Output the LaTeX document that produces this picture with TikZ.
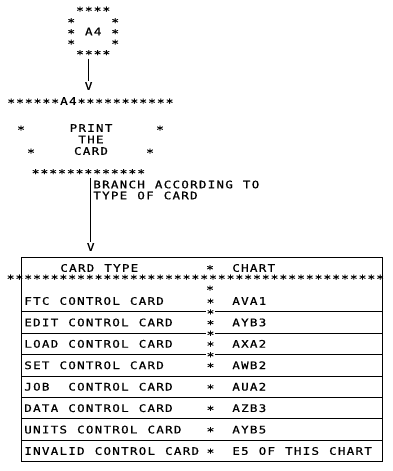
\documentclass[tikz,border=0pt]{standalone}
\usepackage{fontspec}
\newfontfamily\plotfont[FakeStretch=1.2, FakeBold=0.7]{DejaVu Sans Mono}
\newdimen\chpitch
\chpitch=8.8pt
\ExplSyntaxOn
\NewDocumentCommand\mtext{m}{
  \tl_map_inline:nn {#1}{
    \tl_if_eq:nnTF{##1}{*}
      {\makebox[\chpitch][c]{\raisebox{-2.0pt}{\fontsize{11pt}{11pt}\selectfont *}}}
      {\makebox[\chpitch][c]{##1}}
  }
}
\ExplSyntaxOff
\tikzset{
  txt/.style={inner sep=0pt, anchor=west, text height=7.6pt, text depth=0pt,
    font=\plotfont\fontsize{10.4pt}{10.75pt}\selectfont},
  rule/.style={line width=0.8pt, black}
}
\begin{document}
\begin{tikzpicture}[x=1pt,y=-1pt]
\useasboundingbox (0,0) rectangle (393,471);
% connector A4
\node[txt] (c1) at (66.6,9) {\mtext{~****}};
\node[txt] (c2) at (66.6,20.5) {\mtext{*~~~~*}};
\node[txt] (c3) at (66.6,31.5) {\mtext{*~A4~*}};
\node[txt] (c4) at (66.6,42) {\mtext{*~~~~*}};
\node[txt] (c5) at (66.6,52.5) {\mtext{~****}};
\node[txt, anchor=center] (v1) at (88.6,86) {V};
\draw[rule, shorten <=2pt, shorten >=1pt] (v1.north |- c5.south) -- (v1.north);
% process block
\node[txt] (h) at (6.6,101) {\mtext{******A4***********}};
\node[txt, anchor=center] (s1) at (21,128) {\mtext{*}};
\node[txt, anchor=center] (s2) at (160,128) {\mtext{*}};
\node[txt, anchor=center] (s3) at (31,151) {\mtext{*}};
\node[txt, anchor=center] (s4) at (150,151) {\mtext{*}};
\node[txt, anchor=center] (p1) at (91,128) {\mtext{PRINT}};
\node[txt, anchor=center] (p2) at (91,139.5) {\mtext{THE}};
\node[txt, anchor=center] (p3) at (91,151) {\mtext{CARD}};
\node[txt] (pb) at (31,171.5) {\mtext{*************}};
\node[txt, anchor=center] (v2) at (90.7,247) {V};
\draw[rule, shorten <=2pt, shorten >=1pt] (v2.north |- pb.south) -- (v2.north);
\node[txt] (b1) at (92.5,184.5) {\mtext{BRANCH~ACCORDING~TO}};
\node[txt] (b2) at (92.5,195.5) {\mtext{TYPE~OF~CARD}};
% table
\coordinate (tl) at (21,257);
\coordinate (br) at (382,461);
\draw[rule] (tl) rectangle (br);
\node[txt] (hd1) at (59.5,268) {\mtext{CARD~TYPE}};
\node[txt, anchor=center] (hs) at (210,267.5) {\mtext{*}};
\node[txt] (hd2) at (231.5,268) {\mtext{CHART}};
\node[txt] (sr) at (6,277) {\mtext{*******************************************}};
\node[txt, anchor=center] (ss) at (210,288) {\mtext{*}};
\foreach \i/\l/\r in {0/FTC~CONTROL~CARD/AVA1, 1/EDIT~CONTROL~CARD/AYB3,
  2/LOAD~CONTROL~CARD/AXA2, 3/SET~CONTROL~CARD/AWB2, 4/JOB~~CONTROL~CARD/AUA2,
  5/DATA~CONTROL~CARD/AZB3, 6/UNITS~CONTROL~CARD/AYB5,
  7/INVALID~CONTROL~CARD/E5~OF~THIS~CHART}{
  \node[txt] (l\i) at (23.5,301+21.43*\i) {\expandafter\mtext\expandafter{\l}};
  \node[txt, anchor=center] (m\i) at (210.5,301+21.43*\i) {\mtext{*}};
  \node[txt] (r\i) at (231.5,301+21.43*\i) {\expandafter\mtext\expandafter{\r}};
}
\foreach \i in {0,...,6}{
  \draw[rule] (21,311.7+21.43*\i) -- (382,311.7+21.43*\i);
}
\foreach \i in {0,1,2}{
  \node[txt, anchor=center, fill=white, inner sep=0.3pt] (x\i) at (210.5,311.7+21.43*\i) {\mtext{*}};
}
\end{tikzpicture}
\end{document}
